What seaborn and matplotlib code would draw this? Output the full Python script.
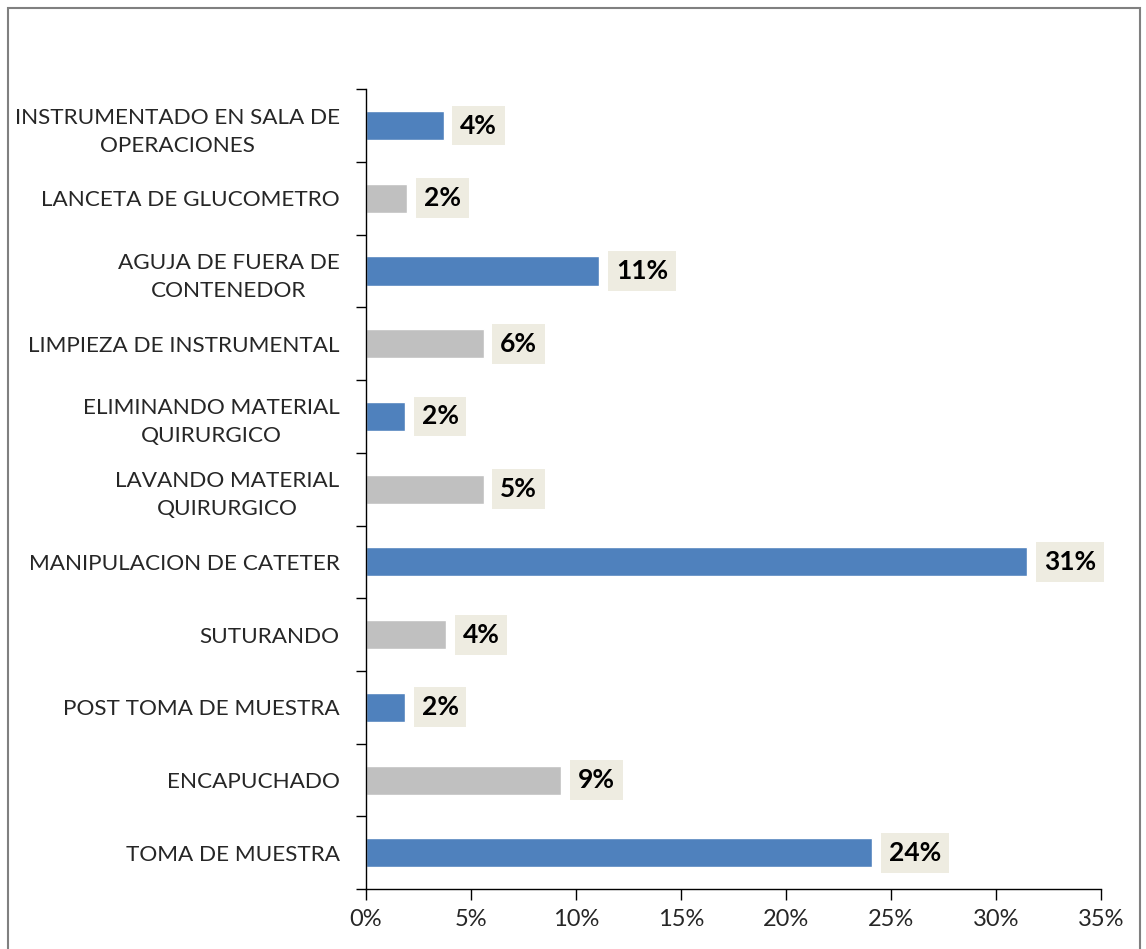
import matplotlib
matplotlib.use("Agg")
import matplotlib.pyplot as plt
import matplotlib.patches as patches
from matplotlib.ticker import FuncFormatter, FixedLocator
import pandas as pd
import seaborn as sns

categorias = [
    "INSTRUMENTADO EN SALA DE\nOPERACIONES",
    "LANCETA DE GLUCOMETRO",
    "AGUJA DE FUERA DE\nCONTENEDOR",
    "LIMPIEZA DE INSTRUMENTAL",
    "ELIMINANDO MATERIAL\nQUIRURGICO",
    "LAVANDO MATERIAL\nQUIRURGICO",
    "MANIPULACION DE CATETER",
    "SUTURANDO",
    "POST TOMA DE MUESTRA",
    "ENCAPUCHADO",
    "TOMA DE MUESTRA",
]
porcentajes = [3.7, 1.95, 11.1, 5.6, 1.85, 5.6, 31.5, 3.8, 1.85, 9.3, 24.1]
etiquetas = ["4%", "2%", "11%", "6%", "2%", "5%", "31%", "4%", "2%", "9%", "24%"]
colores = ["#4F81BD" if i % 2 == 0 else "#C0C0C0" for i in range(len(categorias))]

df = pd.DataFrame({"categoria": categorias, "valor": porcentajes})

sns.set_style("white")
plt.rcParams["font.family"] = ["Lato", "DejaVu Sans"]

fig = plt.figure(figsize=(11.46, 9.49), dpi=100)
ax = fig.add_axes([0.3194, 0.063, 0.6413, 0.843])

sns.barplot(data=df, x="valor", y="categoria", hue="categoria", palette=colores,
            legend=False, width=0.4, orient="h", ax=ax, saturation=1)

for i, (v, t) in enumerate(zip(porcentajes, etiquetas)):
    ax.annotate(t, xy=(v, i), xytext=(12, 0), textcoords="offset points",
                ha="left", va="center", fontsize=19, fontweight="bold", color="black",
                bbox=dict(boxstyle="square,pad=0.3", fc="#EEECE1", ec="none"))

ax.set_xlim(0, 35)
ax.set_ylim(len(categorias) - 0.5, -0.5)
ax.set_xticks(range(0, 36, 5))
ax.xaxis.set_major_formatter(FuncFormatter(lambda x, p: f"{int(x)}%"))
ax.set_xlabel("")
ax.set_ylabel("")

ax.yaxis.set_minor_locator(FixedLocator([i - 0.5 for i in range(len(categorias) + 1)]))
ax.tick_params(axis="y", which="major", length=0, labelsize=16.2, pad=19)
ax.tick_params(axis="y", which="minor", length=7, width=1, color="black", direction="out", left=True)
ax.tick_params(axis="x", which="major", length=8, width=1, color="black", direction="out",
               bottom=True, labelsize=17, pad=6)
for lbl in ax.get_yticklabels():
    lbl.set_multialignment("center")
    lbl.set_linespacing(1.5)

for s in ["top", "right"]:
    ax.spines[s].set_visible(False)
for s in ["left", "bottom"]:
    ax.spines[s].set_color("black")
    ax.spines[s].set_linewidth(1)

fig.patches.append(patches.Rectangle((0.007, -0.01), 0.988, 1.002, transform=fig.transFigure,
                                     fill=False, edgecolor="#808080", linewidth=1.5))

fig.savefig("out.png", dpi=100, facecolor="white")
